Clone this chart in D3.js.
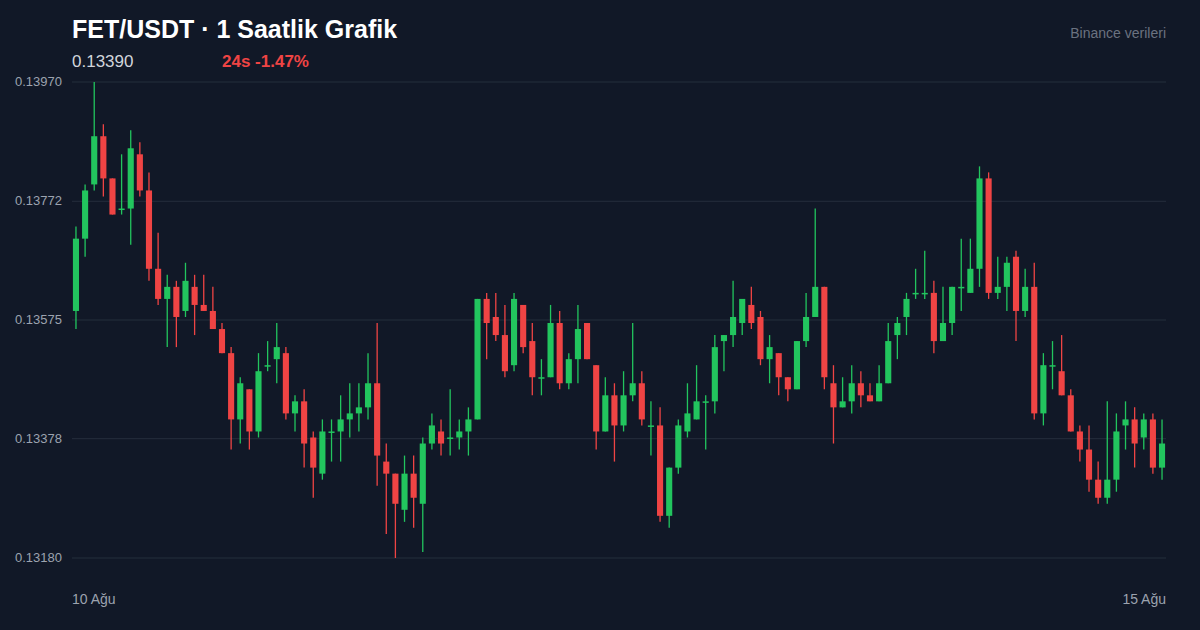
<!DOCTYPE html>
<html><head><meta charset="utf-8">
<script src="https://cdn.jsdelivr.net/npm/d3@7"></script>
<style>html,body{margin:0;padding:0;background:#111827;}svg{display:block;font-family:"Liberation Sans",Arial,sans-serif;}</style>
</head><body><svg id="c" width="1200" height="630"></svg>
<script>
const opens=[.1359,.1371,.1380,.1388,.1381,.1376,.1376,.1385,.1379,.1366,.1361,.1363,.1359,.1363,.1360,.1359,.1356,.1352,.1341,.1346,
.1339,.1350,.1351,.1352,.1342,.1344,.1338,.1332,.1339,.1339,.1341,.1342,.1343,.1347,.1334,.1332,.1326,.1332,.1327,.1337,
.1339,.1338,.1338,.1339,.1341,.1361,.1358,.1355,.1350,.1360,.1354,.1348,.1348,.1357,.1347,.1351,.1357,.1350,.1339,.1345,
.1340,.1345,.1347,.1340,.1340,.1325,.1333,.1339,.1341,.1344,.1344,.1354,.1355,.1357,.1360,.1358,.1351,.1352,.1348,.1346,
.1354,.1358,.1363,.1347,.1343,.1344,.1347,.1345,.1344,.1347,.1355,.1358,.1362,.1362,.1362,.1354,.1357,.1363,.1362,.1366,
.1381,.1362,.1363,.1368,.1359,.1363,.1342,.1350,.1349,.1345,.1339,.1336,.1331,.1328,.1331,.1340,.1341,.1338,.1341,.1333];
const highs=[.1373,.1380,.1397,.1390,.1381,.1385,.1389,.1387,.1382,.1372,.1365,.1364,.1367,.1365,.1365,.1363,.1357,.1353,.1348,.1346,
.1352,.1354,.1357,.1353,.1345,.1346,.1339,.1341,.1341,.1345,.1347,.1347,.1352,.1357,.1337,.1332,.1335,.1335,.1338,.1342,
.1341,.1346,.1341,.1343,.1361,.1362,.1362,.1360,.1362,.1360,.1357,.1351,.1360,.1359,.1352,.1360,.1357,.1350,.1348,.1347,
.1349,.1357,.1349,.1344,.1343,.1333,.1341,.1347,.1350,.1345,.1355,.1355,.1364,.1361,.1363,.1359,.1355,.1352,.1348,.1354,
.1362,.1376,.1363,.1350,.1348,.1350,.1349,.1347,.1350,.1357,.1358,.1362,.1366,.1369,.1364,.1363,.1363,.1371,.1371,.1383,
.1382,.1368,.1368,.1369,.1366,.1367,.1352,.1354,.1355,.1346,.1340,.1340,.1334,.1344,.1342,.1344,.1343,.1342,.1342,.1341];
const lows=[.1356,.1368,.1379,.1378,.1375,.1375,.1370,.1378,.1364,.1360,.1353,.1353,.1358,.1355,.1359,.1356,.1352,.1336,.1337,.1336,
.1338,.1349,.1347,.1341,.1339,.1333,.1328,.1331,.1334,.1334,.1338,.1339,.1341,.1330,.1322,.1318,.1324,.1323,.1319,.1336,
.1335,.1335,.1336,.1335,.1341,.1351,.1354,.1348,.1349,.1352,.1345,.1345,.1348,.1346,.1346,.1347,.1351,.1336,.1339,.1334,
.1339,.1344,.1340,.1335,.1324,.1323,.1332,.1338,.1341,.1336,.1342,.1349,.1353,.1355,.1356,.1350,.1347,.1345,.1344,.1346,
.1353,.1358,.1346,.1337,.1343,.1342,.1343,.1344,.1344,.1347,.1351,.1355,.1361,.1361,.1352,.1354,.1355,.1359,.1362,.1363,
.1361,.1361,.1359,.1354,.1358,.1341,.1340,.1346,.1345,.1339,.1334,.1329,.1327,.1327,.1329,.1336,.1333,.1336,.1332,.1331];
const closes=[.1371,.1379,.1388,.1381,.1375,.1376,.1386,.1379,.1366,.1361,.1363,.1358,.1364,.1360,.1359,.1356,.1352,.1341,.1347,.1339,
.1349,.1350,.1353,.1342,.1344,.1337,.1333,.1339,.1339,.1341,.1342,.1343,.1347,.1335,.1332,.1327,.1332,.1328,.1337,.1340,
.1337,.1338,.1339,.1341,.1361,.1357,.1355,.1349,.1361,.1353,.1348,.1348,.1357,.1347,.1351,.1356,.1351,.1339,.1345,.1340,
.1345,.1347,.1341,.1340,.1325,.1333,.1340,.1342,.1344,.1344,.1353,.1355,.1358,.1361,.1357,.1351,.1353,.1348,.1346,.1354,
.1358,.1363,.1348,.1343,.1344,.1347,.1345,.1344,.1347,.1354,.1357,.1361,.1362,.1362,.1354,.1357,.1363,.1363,.1366,.1381,
.1362,.1363,.1367,.1359,.1363,.1342,.1350,.1350,.1345,.1339,.1336,.1331,.1328,.1331,.1339,.1341,.1337,.1341,.1333,.1337];
const yTicks=[0.13970,0.13772,0.13575,0.13378,0.13180];
const xLabels=["10 Ağu","15 Ağu"];

const svg=d3.select("#c");
svg.append("rect").attr("width",1200).attr("height",630).attr("fill","#111827");
const L=72,R=1166;
const y=d3.scaleLinear().domain([0.13180,0.13970]).range([558,82]);
const x=d3.scaleBand().domain(d3.range(opens.length)).range([L,R]).paddingInner(0.33).paddingOuter(0.1);

svg.append("g").selectAll("line").data(yTicks).join("line")
 .attr("x1",L).attr("x2",R).attr("y1",d=>y(d)).attr("y2",d=>y(d))
 .attr("stroke","#252e3d").attr("stroke-width",1);
svg.append("g").selectAll("text").data(yTicks).join("text")
 .attr("x",62).attr("y",d=>y(d)+4).attr("text-anchor","end")
 .attr("fill","#9ca3af").attr("font-size",13).text(d=>d.toFixed(5));

const data=opens.map((o,i)=>({i,o,h:highs[i],l:lows[i],c:closes[i]}));
const col=d=>d.c>=d.o?"#22c55e":"#ef4444";
const g=svg.append("g");
g.selectAll("line").data(data).join("line")
 .attr("x1",d=>x(d.i)+x.bandwidth()/2).attr("x2",d=>x(d.i)+x.bandwidth()/2)
 .attr("y1",d=>y(d.h)).attr("y2",d=>y(d.l)).attr("stroke",col).attr("stroke-width",1.3);
g.selectAll("rect").data(data).join("rect")
 .attr("x",d=>x(d.i)).attr("width",x.bandwidth())
 .attr("y",d=>y(Math.max(d.o,d.c)))
 .attr("height",d=>Math.max(1.5,Math.abs(y(d.o)-y(d.c))))
 .attr("fill",col);

svg.append("text").attr("x",72).attr("y",38).attr("fill","#ffffff").attr("font-size",25).attr("font-weight",700).text("FET/USDT · 1 Saatlik Grafik");
svg.append("text").attr("x",72).attr("y",67).attr("fill","#d1d5db").attr("font-size",17).text("0.13390");
svg.append("text").attr("x",222).attr("y",67).attr("fill","#ef4444").attr("font-size",17).attr("font-weight",700).text("24s -1.47%");
svg.append("text").attr("x",1166).attr("y",38).attr("text-anchor","end").attr("fill","#6b7280").attr("font-size",14).text("Binance verileri");
svg.append("text").attr("x",72).attr("y",604).attr("fill","#9ca3af").attr("font-size",14).text(xLabels[0]);
svg.append("text").attr("x",1166).attr("y",604).attr("text-anchor","end").attr("fill","#9ca3af").attr("font-size",14).text(xLabels[1]);
</script></body></html>
